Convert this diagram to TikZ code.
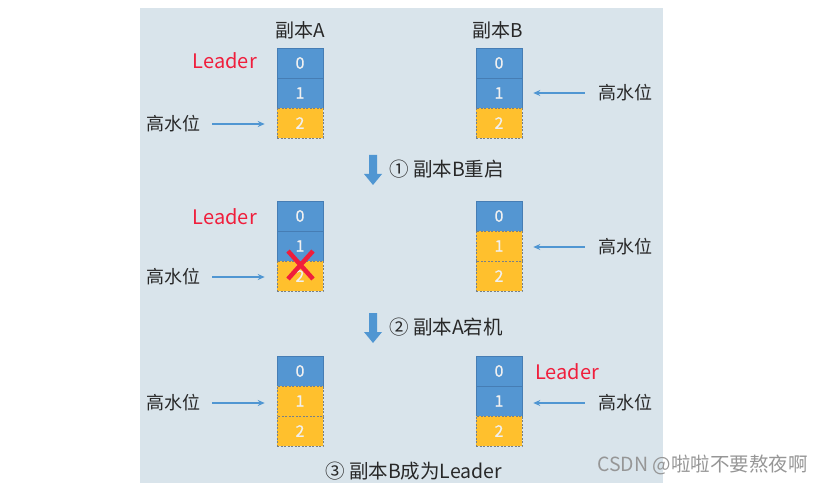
\documentclass[tikz,border=0pt]{standalone}
\usepackage{fontspec}
\setmainfont{Noto Sans CJK SC}
\newfontfamily\digitfont[FakeBold=0.6]{Noto Sans CJK SC}
\usetikzlibrary{arrows.meta}
\definecolor{bg}{RGB}{217,228,235}
\definecolor{cblue}{RGB}{84,150,210}
\definecolor{cblueedge}{RGB}{70,125,180}
\definecolor{cyel}{RGB}{255,192,45}
\definecolor{cdash}{RGB}{120,128,135}
\definecolor{arr}{RGB}{80,150,210}
\definecolor{lred}{RGB}{240,30,60}
\definecolor{txt}{RGB}{40,40,40}
\definecolor{wm}{RGB}{150,150,150}
\tikzset{
 cell/.style={minimum width=46pt, minimum height=30pt, inner sep=0pt, text=white!88!gray, font=\digitfont\fontsize{16}{16}\selectfont},
 bluecell/.style={cell, fill=cblue, draw=cblueedge, line width=0.6pt},
 yelcell/.style={cell, fill=cyel, draw=cdash, dash pattern=on 2pt off 1.5pt, line width=0.6pt},
 lbl/.style={font=\fontsize{18}{18}\selectfont, text=txt, inner sep=0pt},
 ttl/.style={font=\fontsize{19}{19}\selectfont, text=txt, inner sep=0pt},
 stp/.style={font=\fontsize{19.5}{19.5}\selectfont, text=txt, inner sep=0pt},
 leader/.style={font=\fontsize{20}{20}\selectfont, text=lred, inner sep=0pt},
 hw/.style={draw=arr, line width=1.2pt, -{Stealth[length=7pt,width=6pt]}},
 downarr/.style={fill=arr},
}
\begin{document}
\begin{tikzpicture}[x=1pt,y=-1pt]
\useasboundingbox (0,0) rectangle (824,486);
\fill[bg] (140,8) rectangle (663,483);

% ---------- section 1 ----------
\node[ttl] (tA) at (300,30) {副本A};
\node[ttl] (tB) at (498,30) {副本B};
\node[bluecell] (a10) at (300,63) {0};
\node[bluecell] (a11) at (300,93) {1};
\node[yelcell]  (a12) at (300,123) {2};
\node[bluecell] (b10) at (499,63) {0};
\node[bluecell] (b11) at (499,93) {1};
\node[yelcell]  (b12) at (499,123) {2};
\node[leader, anchor=east] (la1) at (257,61) {Leader};
\node[lbl] (hA1) at (173,124) {高水位};
\node[lbl] (hB1) at (625,93) {高水位};
\draw[hw, shorten <=12pt, shorten >=12pt] (hA1.east) -- (a12.west |- hA1.east);
\draw[hw, shorten <=13pt, shorten >=11pt] (hB1.west) -- (b11.east |- hB1.west);

% step 1
\fill[downarr] (369,155) -- (377,155) -- (377,174) -- (382,174) -- (373,185) -- (364,174) -- (369,174) -- cycle;
\node[stp, anchor=west] (s1) at (389,169) {① 副本B重启};

% ---------- section 2 ----------
\node[bluecell] (a20) at (300,216) {0};
\node[bluecell] (a21) at (300,246) {1};
\node[yelcell]  (a22) at (300,276) {2};
\node[bluecell] (b20) at (499,216) {0};
\node[yelcell]  (b21) at (499,246) {1};
\node[yelcell]  (b22) at (499,276) {2};
\node[leader, anchor=east] (la2) at (257,217) {Leader};
\node[lbl] (hA2) at (173,277) {高水位};
\node[lbl] (hB2) at (625,247) {高水位};
\draw[hw, shorten <=12pt, shorten >=12pt] (hA2.east) -- (a22.west |- hA2.east);
\draw[hw, shorten <=13pt, shorten >=11pt] (hB2.west) -- (b21.east |- hB2.west);
\draw[lred, line width=4.5pt] (288,251) -- (313,279) (313,251) -- (288,279);

% step 2
\fill[downarr] (369,313) -- (377,313) -- (377,332) -- (382,332) -- (373,343) -- (364,332) -- (369,332) -- cycle;
\node[stp, anchor=west] (s2) at (389,327) {② 副本A宕机};

% ---------- section 3 ----------
\node[bluecell] (a30) at (300,371) {0};
\node[yelcell]  (a31) at (300,401) {1};
\node[yelcell]  (a32) at (300,431) {2};
\node[bluecell] (b30) at (499,371) {0};
\node[bluecell] (b31) at (499,401) {1};
\node[yelcell]  (b32) at (499,431) {2};
\node[leader, anchor=west] (lb3) at (535,372) {Leader};
\node[lbl] (hA3) at (173,403) {高水位};
\node[lbl] (hB3) at (625,403) {高水位};
\draw[hw, shorten <=12pt, shorten >=12pt] (hA3.east) -- (a31.west |- hA3.east);
\draw[hw, shorten <=13pt, shorten >=11pt] (hB3.west) -- (b31.east |- hB3.west);

\node[stp, anchor=west] (s3) at (325,471) {③ 副本B成为Leader};

\node[anchor=west, inner sep=0pt, text=wm, font=\fontsize{19.5}{19.5}\selectfont] (wm) at (597,465) {CSDN @啦啦不要熬夜啊};
\end{tikzpicture}
\end{document}
